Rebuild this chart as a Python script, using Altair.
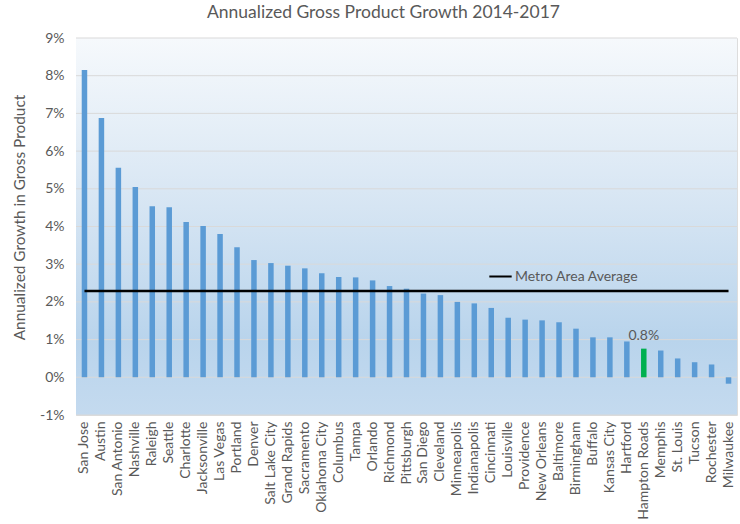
import altair as alt
import pandas as pd

cities = ["San Jose", "Austin", "San Antonio", "Nashville", "Raleigh", "Seattle",
          "Charlotte", "Jacksonville", "Las Vegas", "Portland", "Denver",
          "Salt Lake City", "Grand Rapids", "Sacramento", "Oklahoma City", "Columbus",
          "Tampa", "Orlando", "Richmond", "Pittsburgh", "San Diego", "Cleveland",
          "Minneapolis", "Indianapolis", "Cincinnati", "Louisville", "Providence",
          "New Orleans", "Baltimore", "Birmingham", "Buffalo", "Kansas City",
          "Hartford", "Hampton Roads", "Memphis", "St. Louis", "Tucson",
          "Rochester", "Milwaukee"]
growth = [8.15, 6.88, 5.56, 5.05, 4.54, 4.51, 4.12, 4.01, 3.80, 3.45, 3.11,
          3.03, 2.96, 2.89, 2.76, 2.66, 2.65, 2.57, 2.42, 2.35, 2.22, 2.18,
          2.00, 1.96, 1.84, 1.58, 1.53, 1.51, 1.46, 1.29, 1.06, 1.06,
          0.95, 0.76, 0.71, 0.50, 0.40, 0.34, -0.17]
y_ticks = [-1, 0, 1, 2, 3, 4, 5, 6, 7, 8, 9]
highlight_city = "Hampton Roads"
highlight_label = "0.8%"
metro_average = 2.29
avg_series = "Metro Area Average"

FONT = "Lato"
GREY = "#595959"
W, H = 661, 377

df = pd.DataFrame({"city": cities, "growth": [g / 100 for g in growth]})
df["hl"] = df["city"] == highlight_city
avg_df = pd.DataFrame({"city": [cities[0], cities[-1]],
                       "avg": [metro_average / 100] * 2,
                       "series": [avg_series] * 2})
lab_df = pd.DataFrame({"city": [highlight_city],
                       "growth": [growth[cities.index(highlight_city)] / 100],
                       "label": [highlight_label]})
tick_df = pd.DataFrame({"t": [t / 100 for t in y_ticks]})

xaxis = alt.Axis(labelAngle=-90, labelFont=FONT, labelFontSize=14,
                 labelColor=GREY, ticks=False, domain=False,
                 labelPadding=6, grid=False, title=None)
xscale = alt.Scale(paddingInner=0, paddingOuter=0)
yscale = alt.Scale(domain=[-0.01, 0.09], nice=False, zero=False)
yaxis = alt.Axis(format=".0%", values=[t / 100 for t in y_ticks],
                 labelExpr="replace(datum.label, '\u2212', '-')",
                 labelOverlap=False, labelBound=False, labelFlush=False,
                 labelFont=FONT, labelFontSize=14, labelColor=GREY,
                 ticks=False, domain=False, labelPadding=12, grid=False,
                 title="Annualized Growth in Gross Product",
                 titleFont=FONT, titleFontSize=15.4, titleColor=GREY,
                 titleFontWeight="normal", titlePadding=12, titleY=179)


def X(field):
    return alt.X(field, type="nominal", sort=cities, scale=xscale, axis=xaxis)


def Y(field):
    return alt.Y(field, type="quantitative", scale=yscale, axis=yaxis)


bg = alt.Chart(pd.DataFrame({"a": [0]})).mark_rect(
    color=alt.Gradient(gradient="linear", x1=0, x2=0, y1=0, y2=1,
                       stops=[alt.GradientStop(offset=0, color="#f6f9fc"),
                              alt.GradientStop(offset=0.45, color="#d6e5f3"),
                              alt.GradientStop(offset=0.8, color="#b9d4ec"),
                              alt.GradientStop(offset=1, color="#c4daef")])
).encode(x=alt.value(0), x2=alt.value(W), y=alt.value(0), y2=alt.value(H))

grid = alt.Chart(tick_df).mark_rule(color="#d9d9d9", strokeWidth=1).encode(
    y=Y("t"))

bars = alt.Chart(df).mark_bar(size=5.5).encode(
    x=X("city"),
    y=Y("growth"),
    color=alt.Color("hl:N", scale=alt.Scale(domain=[False, True],
                                            range=["#5b9bd5", "#00b050"]),
                    legend=None))

avg_line = alt.Chart(avg_df).mark_line(strokeWidth=2.5).encode(
    x=X("city"),
    y=Y("avg"),
    stroke=alt.Stroke("series:N", scale=alt.Scale(range=["#000000"]),
                      legend=alt.Legend(orient="none", legendX=412, legendY=226,
                                        title=None, symbolType="stroke",
                                        symbolSize=500, symbolStrokeWidth=2,
                                        labelFont=FONT, labelFontSize=14,
                                        labelColor=GREY, labelOffset=2,
                                        padding=0)))

label = alt.Chart(lab_df).mark_text(font=FONT, fontSize=14, color=GREY,
                                    baseline="bottom", dy=-6).encode(
    x=X("city"),
    y=Y("growth"),
    text="label:N")

chart = alt.layer(bg, grid, bars, avg_line, label).properties(
    width=W, height=H,
    title=alt.TitleParams("Annualized Gross Product Growth 2014-2017",
                          font=FONT, fontSize=17.5, color=GREY,
                          fontWeight="normal", dx=-23, offset=10),
    autosize=alt.AutoSizeParams(type="none"),
    padding={"left": 76, "top": 38, "right": 3, "bottom": 109},
).configure_view(stroke=None).configure(background="white").configure_axis(
    labelOverlap=False)

chart.save("out.html", embed_options={"renderer": "svg", "actions": False})
